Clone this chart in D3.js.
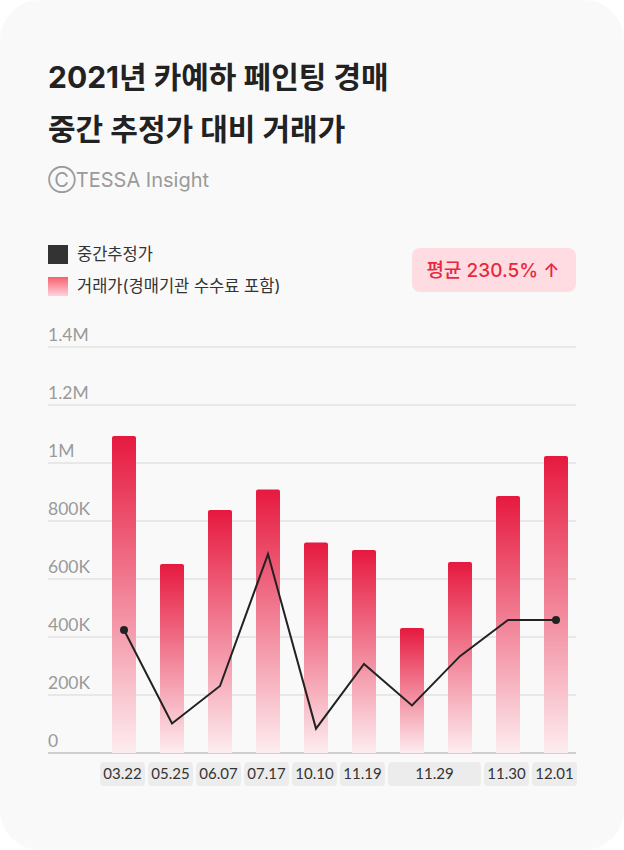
<!DOCTYPE html>
<html><head><meta charset="utf-8">
<script src="https://cdn.jsdelivr.net/npm/d3@7"></script>
<style>
html,body{margin:0;padding:0;background:#ffffff;}
svg{display:block;}
</style></head>
<body>
<svg id="chart" width="624" height="850"></svg>
<script>
const dates = ["03.22","05.25","06.07","07.17","10.10","11.19","11.29","11.29","11.30","12.01"];
const prices = [1093000,652000,838000,909000,726000,700000,431000,659000,886000,1024000];
const estimates = [424000,102000,231000,686000,84000,307000,164000,334000,459000,459000];
const yTicks = [0,200000,400000,600000,800000,1000000,1200000,1400000];
const yTickLabels = ["0","200K","400K","600K","800K","1M","1.2M","1.4M"];
const titleLines = ["2021년 카예하 페인팅 경매","중간 추정가 대비 거래가"];
const legendLabels = ["중간추정가","거래가(경매기관 수수료 포함)"];
const badgeText = "평균 230.5% ↑";

const svg = d3.select("#chart");
const W = 624, H = 850;
const KR = "'Inter','Noto Sans CJK KR',sans-serif";
const LATO = "Lato,'Noto Sans',sans-serif";

const defs = svg.append("defs");
const g1 = defs.append("linearGradient").attr("id","barGrad").attr("x1",0).attr("y1",0).attr("x2",0).attr("y2",1);
g1.append("stop").attr("offset","0%").attr("stop-color","#e6193f");
g1.append("stop").attr("offset","100%").attr("stop-color","#fdedf0");
const g2 = defs.append("linearGradient").attr("id","legGrad").attr("x1",0).attr("y1",0).attr("x2",0).attr("y2",1);
g2.append("stop").attr("offset","0%").attr("stop-color","#f7606f");
g2.append("stop").attr("offset","100%").attr("stop-color","#fdd3da");

// card
svg.append("rect").attr("x",0).attr("y",0).attr("width",W).attr("height",H)
  .attr("rx",40).attr("fill","#f9f9f9");

// title
svg.selectAll("text.title").data(titleLines).enter().append("text")
  .attr("class","title").attr("x",48).attr("y",(d,i)=>88+i*52)
  .attr("font-family",KR).attr("font-weight",700).attr("font-size",30)
  .attr("fill","#222").text(d=>d);

svg.append("text").attr("x",48).attr("y",187)
  .attr("font-family",KR).attr("font-size",20).attr("fill","#9a9a9a")
  .text("ⒸTESSA Insight");

// legend
const leg = svg.append("g");
legendLabels.forEach((t,i)=>{
  leg.append("rect").attr("x",48).attr("y",245+i*32).attr("width",20).attr("height",19)
    .attr("fill", i===0 ? "#333" : "url(#legGrad)");
  leg.append("text").attr("x",77).attr("y",260+i*32)
    .attr("font-family",KR).attr("font-size",16.5).attr("fill","#333").text(t);
});

// badge
svg.append("rect").attr("x",412).attr("y",248).attr("width",164).attr("height",44)
  .attr("rx",8).attr("fill","#ffdce1");
svg.append("text").attr("x",493).attr("y",277).attr("text-anchor","middle")
  .attr("font-family",KR).attr("font-size",19).attr("font-weight",500)
  .attr("fill","#e8283f").text(badgeText);

// scales
const x = d3.scaleBand().domain(d3.range(dates.length)).range([100,580]).paddingInner(0.5).paddingOuter(0.25);
const step = x.step();
const y = d3.scaleLinear().domain([0,1400000]).range([753,347]);

// grid
const grid = svg.append("g");
yTicks.forEach((v,i)=>{
  grid.append("line").attr("x1",48).attr("x2",576).attr("y1",y(v)).attr("y2",y(v))
    .attr("stroke", v===0 ? "#cfcfcf" : "#e2e2e2").attr("stroke-width", v===0 ? 2 : 1.5);
  grid.append("text").attr("x",48).attr("y",y(v)-6)
    .attr("font-family",LATO).attr("font-size",17.5).attr("fill","#9a9a9a").text(yTickLabels[i]);
});

// bars
svg.append("g").selectAll("path").data(prices).enter().append("path")
  .attr("d",(d,i)=>{
    const x0 = x(i), w = x.bandwidth(), y0 = y(d), y1 = y(0), r = 2;
    return `M${x0},${y1}V${y0+r}Q${x0},${y0} ${x0+r},${y0}H${x0+w-r}Q${x0+w},${y0} ${x0+w},${y0+r}V${y1}Z`;
  })
  .attr("fill","url(#barGrad)");

// line
const cx = i => x(i) + x.bandwidth()/2;
svg.append("path").datum(estimates)
  .attr("d", d3.line().x((d,i)=>cx(i)).y(d=>y(d)))
  .attr("fill","none").attr("stroke","#222").attr("stroke-width",2);
[0, estimates.length-1].forEach(i=>{
  svg.append("circle").attr("cx",cx(i)).attr("cy",y(estimates[i])).attr("r",4).attr("fill","#222");
});

// x labels, grouped
const groups = [];
dates.forEach((d,i)=>{
  const last = groups[groups.length-1];
  if (last && last.label===d) last.n++; else groups.push({label:d,start:i,n:1});
});
const xl = svg.append("g");
groups.forEach(gp=>{
  const bx = x(gp.start) - x.bandwidth()/2;
  const bw = gp.n*step - 3;
  xl.append("rect").attr("x",bx).attr("y",762).attr("width",bw).attr("height",24)
    .attr("rx",4).attr("fill","#ececec");
  xl.append("text").attr("x",bx+bw/2).attr("y",779).attr("text-anchor","middle")
    .attr("font-family",LATO).attr("font-size",15).attr("fill","#333").text(gp.label);
});
</script>
</body></html>
